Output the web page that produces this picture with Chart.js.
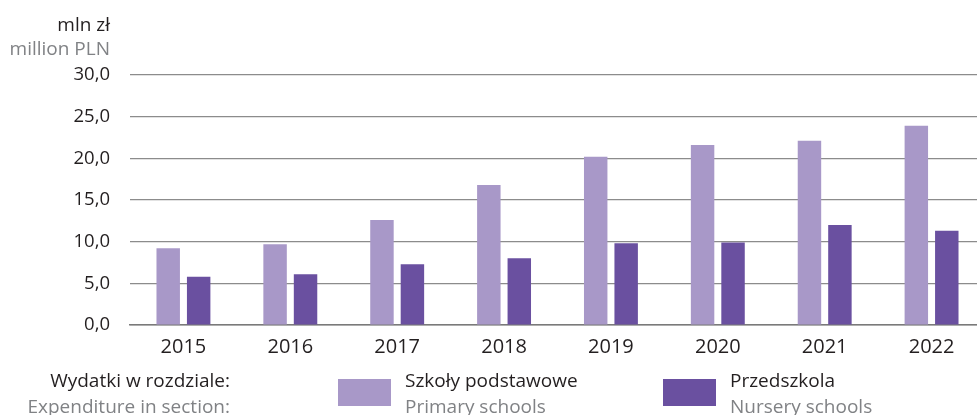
<!DOCTYPE html>
<html>
<head>
<meta charset="utf-8">
<script src="https://cdn.jsdelivr.net/npm/chart.js@4"></script>
<style>
  html, body { margin: 0; padding: 0; background: #fff; overflow: hidden; }
  #wrap { position: relative; width: 977px; height: 415px; overflow: hidden; font-family: "Open Sans", sans-serif; }
  #cv { position: absolute; left: 0; top: 0; }
  .t { position: absolute; white-space: nowrap; font-size: 19px; line-height: 1; }
  .blk { color: #231f20; }
  .gry { color: #808285; }
  .sq { position: absolute; width: 53px; height: 27px; }
</style>
</head>
<body>
<div id="wrap">
  <canvas id="cv" width="990" height="369"></canvas>
  <div class="t blk" style="right:867px; top:15px;">mln zł</div>
  <div class="t gry" style="right:867px; top:39px;">million PLN</div>

  <div class="t blk" style="right:747px; top:371px;">Wydatki w rozdziale:</div>
  <div class="t gry" style="right:747px; top:397px;">Expenditure in section:</div>

  <div class="sq" id="sq1" style="left:338px; top:379px;"></div>
  <div class="t blk" id="l1a" style="left:405px; top:371px;"></div>
  <div class="t gry" id="l1b" style="left:405px; top:397px;"></div>

  <div class="sq" id="sq2" style="left:663px; top:379px;"></div>
  <div class="t blk" id="l2a" style="left:730px; top:371px;"></div>
  <div class="t gry" id="l2b" style="left:730px; top:397px;"></div>
</div>
<script>
const years = ['2015', '2016', '2017', '2018', '2019', '2020', '2021', '2022'];
const primarySchools = [9.2, 9.7, 12.6, 16.8, 20.2, 21.6, 22.1, 23.9];
const nurserySchools = [5.8, 6.1, 7.3, 8.0, 9.8, 9.9, 12.0, 11.3];
const yTickLabels = ['0,0', '5,0', '10,0', '15,0', '20,0', '25,0', '30,0'];
const seriesNamesPl = ['Szkoły podstawowe', 'Przedszkola'];
const seriesNamesEn = ['Primary schools', 'Nursery schools'];
const colors = ['#a898c8', '#6a50a0'];

document.getElementById('sq1').style.background = colors[0];
document.getElementById('sq2').style.background = colors[1];
document.getElementById('l1a').textContent = seriesNamesPl[0];
document.getElementById('l1b').textContent = seriesNamesEn[0];
document.getElementById('l2a').textContent = seriesNamesPl[1];
document.getElementById('l2b').textContent = seriesNamesEn[1];

new Chart(document.getElementById('cv'), {
  type: 'bar',
  data: {
    labels: years,
    datasets: [
      { label: seriesNamesPl[0] + ' / ' + seriesNamesEn[0], data: primarySchools, backgroundColor: colors[0],
        categoryPercentage: 0.57, barPercentage: 0.77 },
      { label: seriesNamesPl[1] + ' / ' + seriesNamesEn[1], data: nurserySchools, backgroundColor: colors[1],
        categoryPercentage: 0.57, barPercentage: 0.77 }
    ]
  },
  options: {
    responsive: false,
    animation: false,
    devicePixelRatio: 1,
    layout: { padding: { top: 75, right: 5, bottom: 0, left: 0 } },
    plugins: { legend: { display: false }, tooltip: { enabled: false } },
    scales: {
      x: {
        grid: { display: false, drawTicks: false },
        border: { display: true, color: '#7a7a7a', width: 1.5 },
        ticks: { font: { family: 'Open Sans', size: 20 }, color: '#231f20', padding: 10, maxRotation: 0 }
      },
      y: {
        min: 0, max: 30,
        afterFit: (s) => { s.width = 130; },
        grid: { color: '#8c8c8c', lineWidth: 1.2, drawTicks: false },
        border: { display: false },
        ticks: {
          stepSize: 5, padding: 20, font: { family: 'Open Sans', size: 18.5 }, color: '#231f20',
          callback: (v) => yTickLabels[Math.round(v / 5)]
        }
      }
    }
  }
});
</script>
</body>
</html>
